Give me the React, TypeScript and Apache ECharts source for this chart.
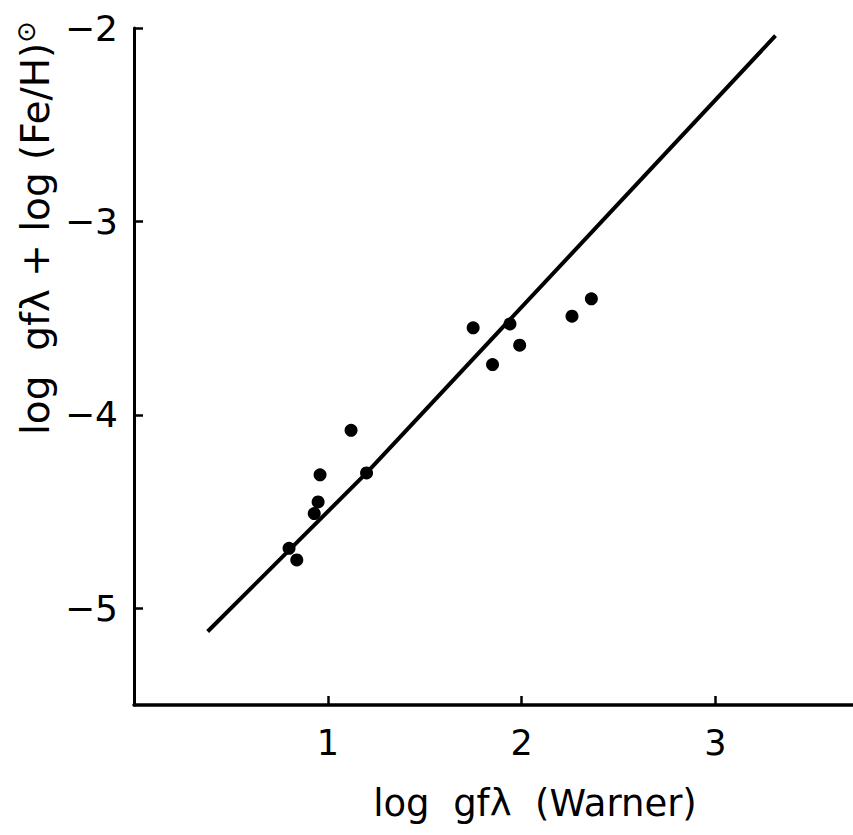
import React, { useEffect, useRef } from "react";
import * as echarts from "echarts";

const xTicks = [1, 2, 3];
const yTicks = [-5, -4, -3, -2];
const pointsX = [0.8, 0.84, 0.93, 0.95, 0.96, 1.12, 1.2, 1.75, 1.85, 1.94, 1.99, 2.26, 2.36];
const pointsY = [-4.69, -4.75, -4.51, -4.45, -4.31, -4.08, -4.3, -3.55, -3.74, -3.53, -3.64, -3.49, -3.4];
const fitX = [0.38, 1.2, 3.31];
const fitY = [-5.12, -4.3, -2.04];

const FONT = "'DejaVu Sans', sans-serif";

export default function App() {
  const ref = useRef<HTMLDivElement>(null);
  useEffect(() => {
    if (!ref.current) return;
    const chart = echarts.init(ref.current, null, { renderer: "svg" });
    const fmt = (v: number) => (v < 0 ? "\u2212" + Math.abs(v) : String(v));
    chart.setOption({
      animation: false,
      backgroundColor: "#fff",
      grid: { left: 134, top: 28, right: 0, bottom: 130, containLabel: false },
      xAxis: {
        type: "value",
        min: 0,
        max: 3.71,
        axisLine: { show: true, onZero: false, lineStyle: { color: "#000", width: 3.5 } },
        axisTick: { show: true, inside: true, length: 9, customValues: xTicks, lineStyle: { color: "#000", width: 2.5 } },
        axisLabel: { customValues: xTicks, color: "#000", fontSize: 35, fontFamily: FONT, margin: 20 },
        splitLine: { show: false },
      },
      yAxis: {
        type: "value",
        min: -5.5,
        max: -2,
        axisLine: { show: true, onZero: false, lineStyle: { color: "#000", width: 3 } },
        axisTick: { show: true, inside: true, length: 9, customValues: yTicks, lineStyle: { color: "#000", width: 2.5 } },
        axisLabel: { customValues: yTicks, color: "#000", fontSize: 36, fontFamily: FONT, margin: 16, formatter: fmt },
        splitLine: { show: false },
      },
      series: [
        {
          type: "line",
          data: fitX.map((x, i) => [x, fitY[i]]),
          showSymbol: false,
          lineStyle: { color: "#000", width: 4 },
          z: 2,
        },
        {
          type: "scatter",
          data: pointsX.map((x, i) => [x, pointsY[i]]),
          symbol: "circle",
          symbolSize: 13,
          itemStyle: { color: "#000", opacity: 1 },
          z: 3,
        },
      ],
      graphic: [
        {
          type: "text",
          x: 535,
          y: 803,
          style: {
            text: "log  gf\u03bb  (Warner)",
            font: `37px ${FONT}`,
            fill: "#000",
            align: "center",
            verticalAlign: "middle",
          },
        },
        {
          type: "text",
          x: 35,
          y: 228,
          rotation: Math.PI / 2,
          style: {
            text: "log  gf\u03bb + log (Fe/H){s|\u2299}",
            font: `39px ${FONT}`,
            fill: "#000",
            align: "center",
            verticalAlign: "middle",
            rich: {
              s: { fontSize: 26, fontFamily: "DejaVu Sans", fill: "#000", verticalAlign: "bottom", padding: [0, 0, 18, 0] },
            },
          },
        },
      ],
    });
    return () => chart.dispose();
  }, []);
  return (
    <div
      ref={ref}
      style={{ position: "absolute", left: 0, top: 0, width: 853, height: 835 }}
    />
  );
}
